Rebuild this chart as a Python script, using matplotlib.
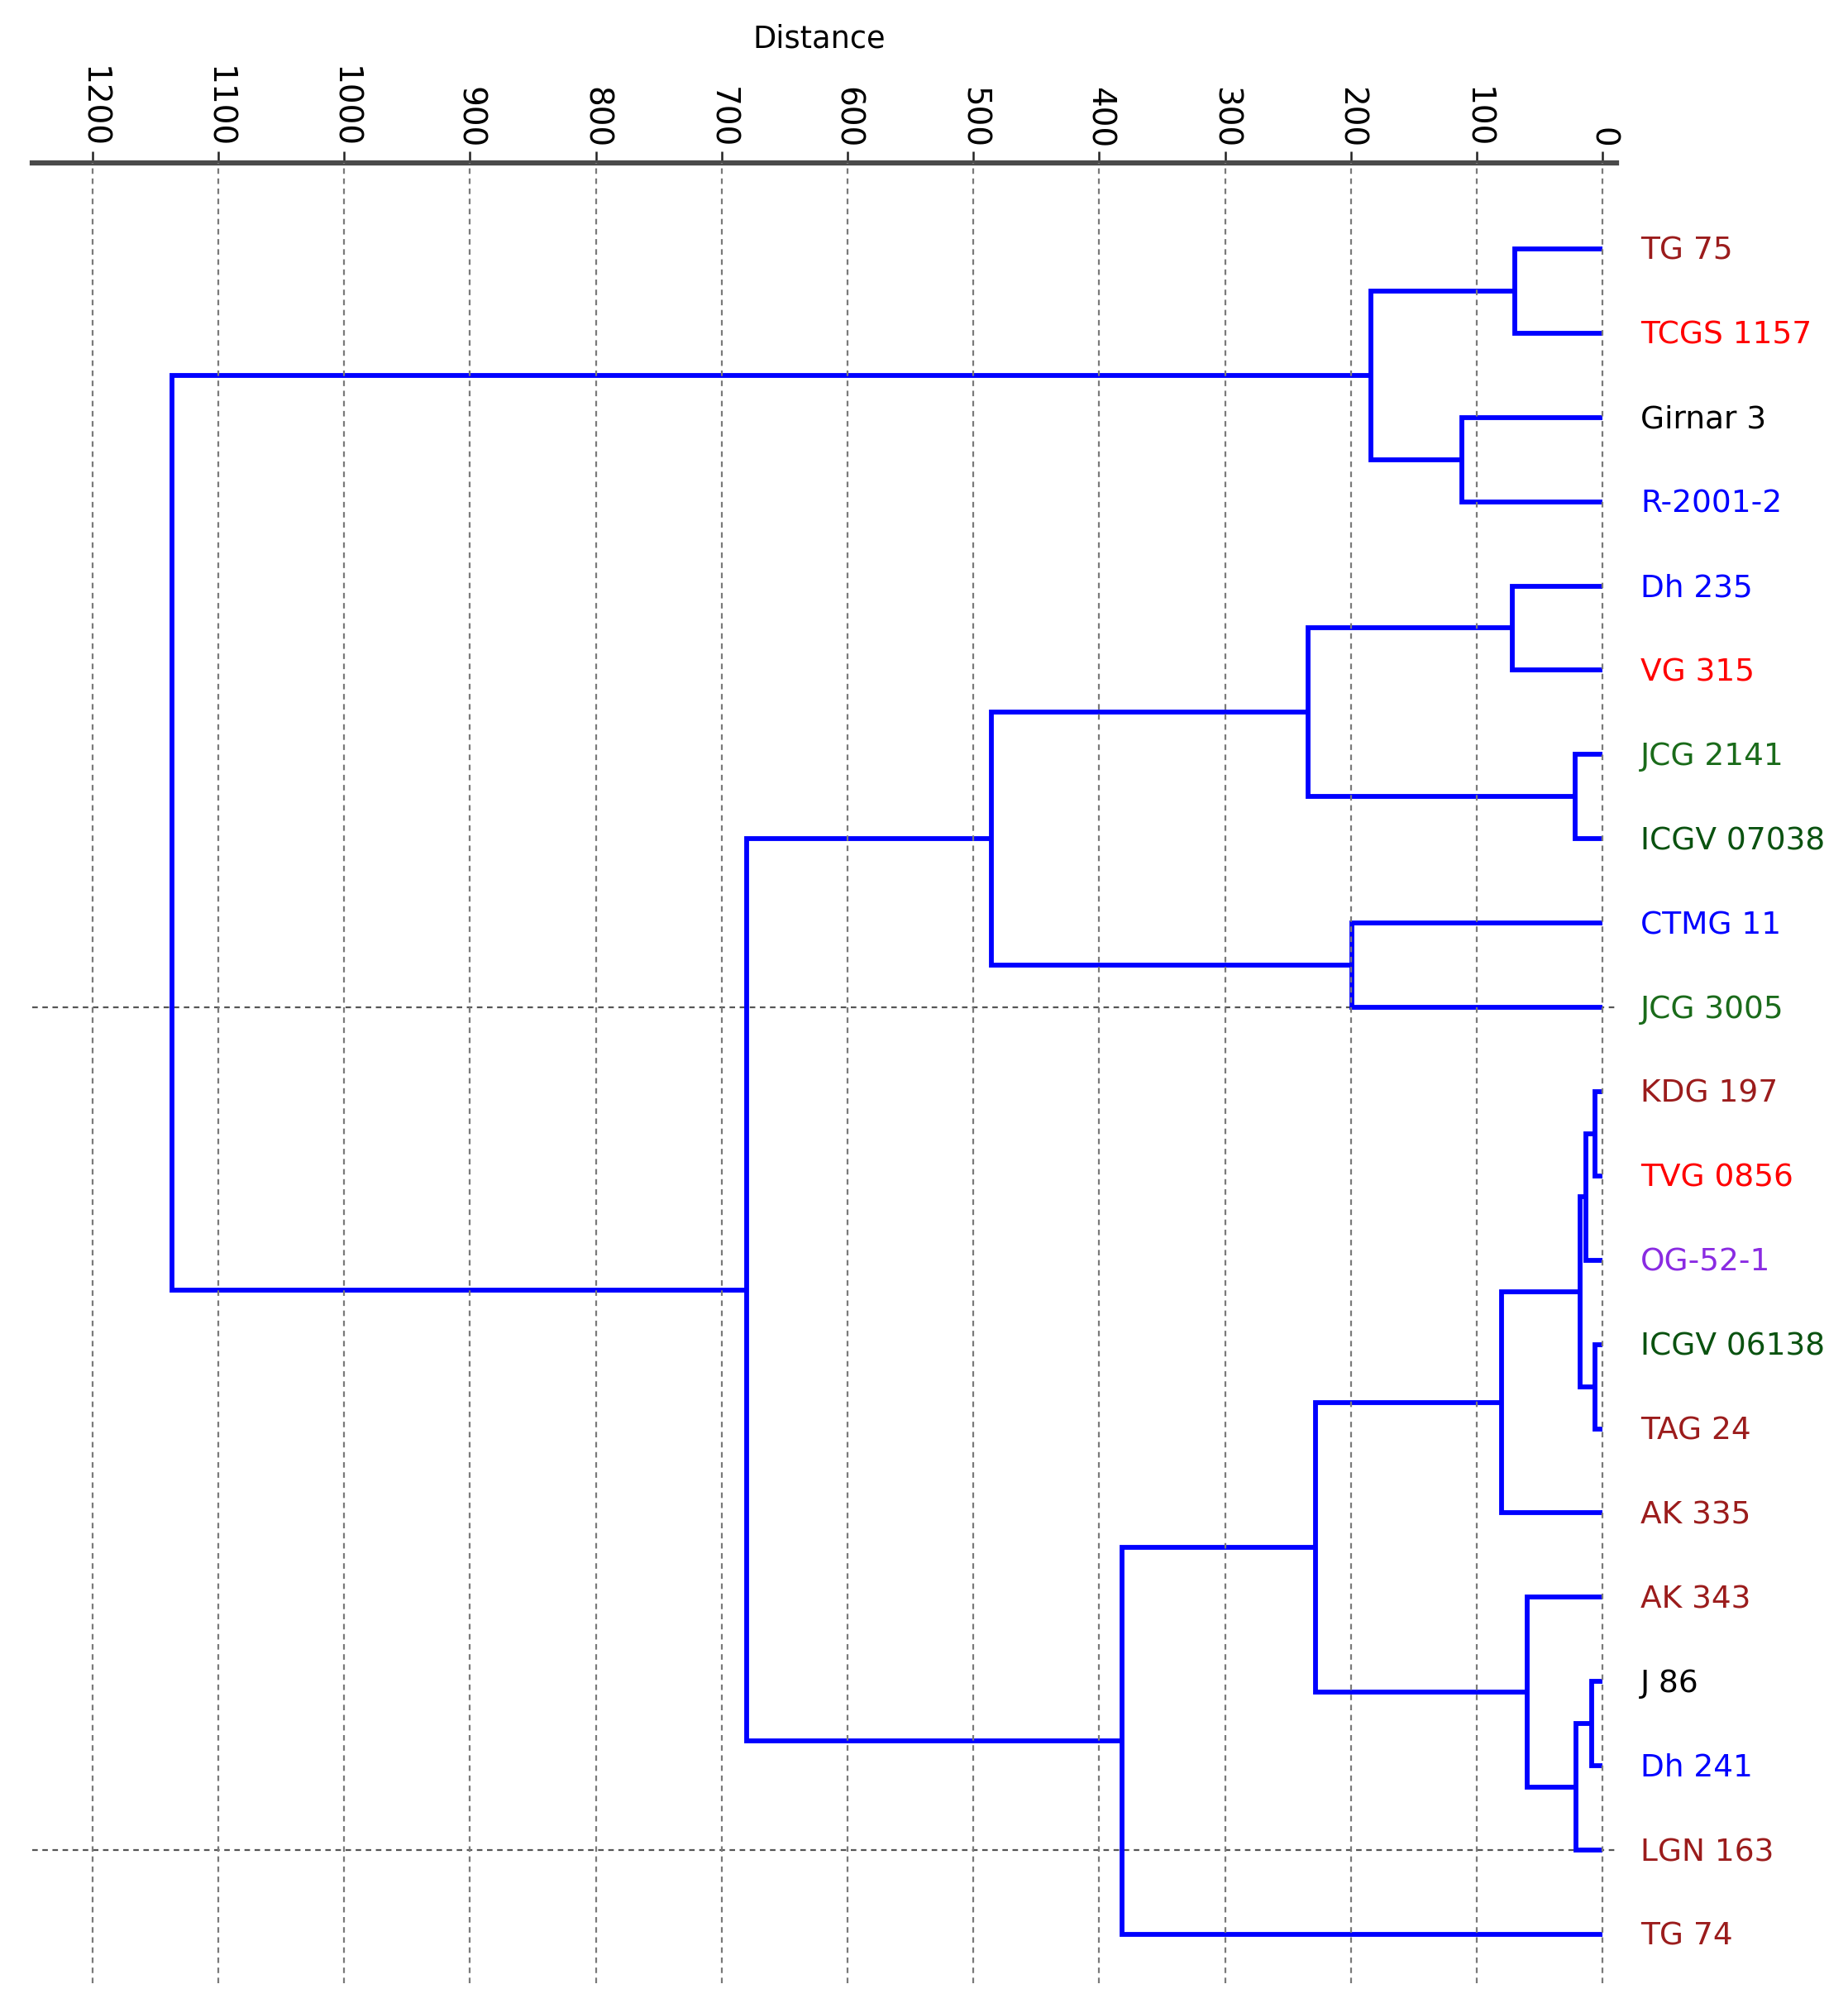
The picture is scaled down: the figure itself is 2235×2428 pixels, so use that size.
import matplotlib
matplotlib.use("Agg")
import matplotlib.pyplot as plt

# ---------------- data ----------------
labels = ["TG 75", "TCGS 1157", "Girnar 3", "R-2001-2", "Dh 235", "VG 315",
          "JCG 2141", "ICGV 07038", "CTMG 11", "JCG 3005", "KDG 197",
          "TVG 0856", "OG-52-1", "ICGV 06138", "TAG 24", "AK 335", "AK 343",
          "J 86", "Dh 241", "LGN 163", "TG 74"]
label_colors = ["#9b1c1c", "#ff0000", "#000000", "#0000ff", "#0000ff", "#ff0000",
                "#1a6b1a", "#0a5210", "#0000ff", "#1a6b1a", "#9b1c1c",
                "#ff0000", "#8a2be2", "#0a5210", "#9b1c1c", "#9b1c1c", "#9b1c1c",
                "#000000", "#0000ff", "#9b1c1c", "#9b1c1c"]
# linkage: clusters numbered from len(labels) upward
merge_a = [10, 13, 17, 21, 24, 23, 6, 16, 0, 4, 25, 2, 29, 8, 31, 30, 35, 36, 38, 33]
merge_b = [11, 14, 18, 12, 22, 19, 7, 26, 1, 5, 15, 3, 32, 9, 28, 27, 20, 34, 37, 39]
merge_h = [6, 6, 9, 13, 18, 21, 22, 60, 70, 72, 80, 112, 184, 199, 228, 234, 382, 486, 680, 1137]
ticks = [1200, 1100, 1000, 900, 800, 700, 600, 500, 400, 300, 200, 100, 0]
marked_leaves = ["JCG 3005", "LGN 163"]

# ---------------- figure ----------------
W, H = 2235, 2428
fig = plt.figure(figsize=(W / 100, H / 100), dpi=100)
ax = fig.add_axes([38.7 / W, 1 - 2398 / H, (1955 - 38.7) / W, (2398 - 197) / H])

n = len(labels)
pos = {i: (0.0, float(i)) for i in range(n)}
line_color = "#0000ff"
for k, (a, b, h) in enumerate(zip(merge_a, merge_b, merge_h)):
    xa, ya = pos[a]
    xb, yb = pos[b]
    ax.plot([xa, h, h, xb], [ya, ya, yb, yb], color=line_color, lw=4.2,
            solid_joinstyle="miter", solid_capstyle="butt", zorder=3)
    pos[n + k] = (h, (ya + yb) / 2.0)

ax.set_xlim(1248, -11)
ax.set_ylim(n - 1 + 0.58, -1.02)

# vertical dashed grid
for t in ticks:
    ax.axvline(t, color="#7a7a7a", lw=1.6, ls=(0, (3, 2.5)), zorder=4)

# horizontal dashed marker lines
for name in marked_leaves:
    yi = labels.index(name)
    ax.axhline(yi, color="#555555", lw=1.6, ls=(0, (3, 2.5)), zorder=2)

# leaf labels
for i, (lab, c) in enumerate(zip(labels, label_colors)):
    ax.text(-30, i + 0.03, lab, color=c, fontsize=27, ha="left", va="center",
            clip_on=False, family="DejaVu Sans")

# axis styling
ax.xaxis.tick_top()
ax.set_xticks(ticks)
ax.set_xticklabels([str(t) for t in ticks])
ax.tick_params(axis="x", direction="out", length=10, width=1.8, color="#222222",
               labelsize=28, labelrotation=270, pad=3)
ax.set_yticks([])
for s in ["left", "right", "bottom"]:
    ax.spines[s].set_visible(False)
ax.spines["top"].set_linewidth(4.5)
ax.spines["top"].set_color("#4a4a4a")

fig.text(991 / W, 1 - 47 / H, "Distance", ha="center", va="center", fontsize=26.5)

fig.savefig("out.png", dpi=100)
